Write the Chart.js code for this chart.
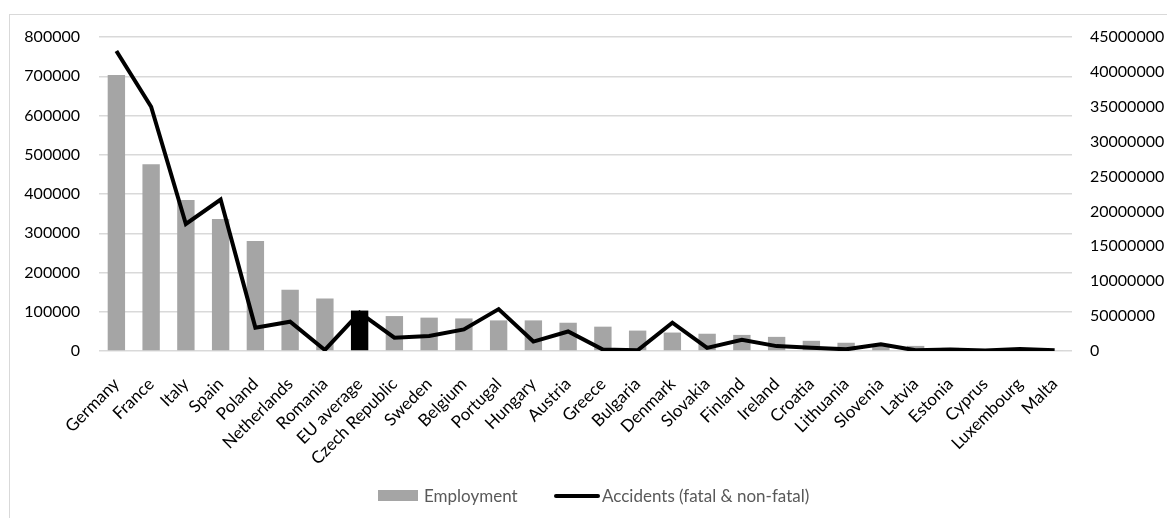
<!DOCTYPE html>
<html>
<head>
<meta charset="utf-8">
<script src="https://cdn.jsdelivr.net/npm/chart.js@4"></script>
<style>
  html, body { margin: 0; padding: 0; background: #fff; }
  #wrap { position: relative; width: 1167px; height: 518px; overflow: hidden; }
  #frame { position: absolute; left: 9px; top: 14px; width: 1170px; height: 520px; border: 1px solid #d9d9d9; box-sizing: border-box; }
  #grafico { position: absolute; left: 0; top: 0; }
  .legenda { position: absolute; top: 485px; font-family: Lato, sans-serif; font-size: 17px; color: #595959; display: flex; align-items: center; }
  .legenda span.caixa { display: inline-block; width: 40px; height: 11px; background: #a5a5a5; margin-right: 6px; }
  .legenda span.traco { display: inline-block; width: 46px; height: 4px; background: #000; border-radius: 2px; margin-right: 2px; }
</style>
</head>
<body>
<div id="wrap">
  <div id="frame"></div>
  <canvas id="grafico" width="1167" height="518"></canvas>
  <div class="legenda" style="left:378px"><span class="caixa"></span>Employment</div>
  <div class="legenda" style="left:554px"><span class="traco"></span>Accidents (fatal &amp; non-fatal)</div>
</div>
<script>
const paises = ['Germany', 'France', 'Italy', 'Spain', 'Poland', 'Netherlands', 'Romania', 'EU average',
  'Czech Republic', 'Sweden', 'Belgium', 'Portugal', 'Hungary', 'Austria', 'Greece', 'Bulgaria', 'Denmark',
  'Slovakia', 'Finland', 'Ireland', 'Croatia', 'Lithuania', 'Slovenia', 'Latvia', 'Estonia', 'Cyprus',
  'Luxembourg', 'Malta'];

// emprego (eixo esquerdo)
const emprego = [703000, 476000, 385000, 336000, 280000, 156000, 134000, 103000,
  89000, 85000, 83000, 78000, 78000, 72000, 62000, 52000, 47000,
  44000, 41000, 36000, 26000, 21000, 16000, 13000, 8000, 5000,
  5000, 2000];

// acidentes fatais e nao fatais (eixo direito)
const acidentes = [43000000, 35000000, 18200000, 21700000, 3350000, 4200000, 150000, 5500000,
  1900000, 2150000, 3100000, 6000000, 1350000, 2800000, 200000, 100000, 4050000,
  450000, 1600000, 700000, 470000, 240000, 950000, 100000, 200000, 70000,
  300000, 100000];

const ticksEsquerda = { min: 0, max: 800000, step: 100000 };
const ticksDireita = { min: 0, max: 45000000, step: 5000000 };

// a barra da media europeia fica em preto
const corBarras = paises.map(p => p === 'EU average' ? '#000000' : '#a5a5a5');

const fonte = { family: 'Lato', size: 16 };

new Chart(document.getElementById('grafico'), {
  type: 'bar',
  data: {
    labels: paises,
    datasets: [
      {
        type: 'line',
        label: 'Accidents (fatal & non-fatal)',
        data: acidentes,
        yAxisID: 'y1',
        borderColor: '#000',
        backgroundColor: '#000',
        borderWidth: 4,
        tension: 0,
        pointRadius: 0,
        borderJoinStyle: 'miter',
        order: 0
      },
      {
        label: 'Employment',
        data: emprego,
        yAxisID: 'y',
        backgroundColor: corBarras,
        categoryPercentage: 1,
        barPercentage: 0.5,
        order: 1
      }
    ]
  },
  options: {
    responsive: false,
    animation: false,
    layout: { padding: { top: 37, right: 0, bottom: 0, left: 0 } },
    plugins: { legend: { display: false }, tooltip: { enabled: false } },
    scales: {
      x: {
        grid: { display: false },
        border: { display: false },
        ticks: { color: '#000', font: { family: 'Lato', size: 17 }, minRotation: 45, maxRotation: 45, autoSkip: false, padding: 15 },
        afterFit: s => { s.height = 167; }
      },
      y: {
        position: 'left',
        min: ticksEsquerda.min,
        max: ticksEsquerda.max,
        grid: { color: '#d9d9d9', lineWidth: 1.5, drawTicks: false },
        border: { display: false },
        ticks: { stepSize: ticksEsquerda.step, color: '#000', font: fonte, padding: 19, callback: v => String(v) },
        afterFit: s => { s.width = 99; }
      },
      y1: {
        position: 'right',
        min: ticksDireita.min,
        max: ticksDireita.max,
        grid: { display: false, drawTicks: false },
        border: { display: false },
        ticks: { stepSize: ticksDireita.step, color: '#000', font: fonte, padding: 18, callback: v => String(v) },
        afterFit: s => { s.width = 95; }
      }
    }
  }
});
</script>
</body>
</html>
